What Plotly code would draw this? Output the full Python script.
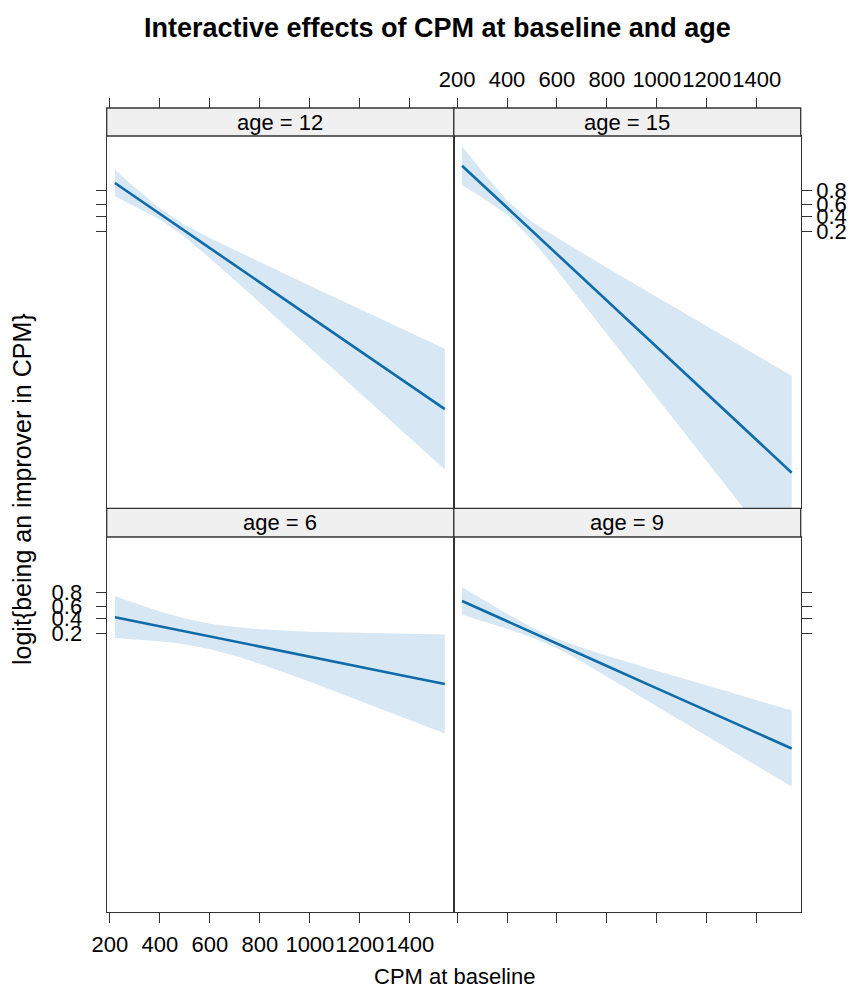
import numpy as np
import plotly.graph_objects as go

# ---------------- data (logit scale) ----------------
cpm = [220, 300, 400, 500, 600, 700, 800, 1000, 1200, 1400, 1540]

fit_age6 = [-0.31, -0.58, -0.93, -1.27, -1.61, -1.95, -2.29, -2.98, -3.66, -4.34, -4.82]
upper_age6 = [1.10, 0.63, 0.07, -0.40, -0.75, -0.98, -1.13, -1.30, -1.38, -1.44, -1.48]
lower_age6 = [-1.72, -1.79, -1.93, -2.14, -2.47, -2.92, -3.45, -4.66, -5.94, -7.24, -8.16]

fit_age9 = [0.78, 0.17, -0.58, -1.34, -2.09, -2.84, -3.60, -5.11, -6.61, -8.12, -9.17]
upper_age9 = [1.71, 0.91, -0.07, -1.00, -1.77, -2.37, -2.91, -3.93, -4.92, -5.92, -6.60]
lower_age9 = [-0.15, -0.57, -1.09, -1.68, -2.41, -3.31, -4.29, -6.29, -8.30, -10.33, -11.74]

fit_age12 = [1.87, 0.94, -0.22, -1.38, -2.54, -3.70, -4.86, -7.18, -9.50, -11.82, -13.44]
upper_age12 = [2.76, 1.57, 0.16, -0.97, -1.85, -2.68, -3.48, -5.08, -6.67, -8.25, -9.35]
lower_age12 = [0.98, 0.31, -0.60, -1.79, -3.23, -4.72, -6.24, -9.28, -12.33, -15.39, -17.53]

fit_age15 = [3.04, 1.78, 0.21, -1.37, -2.94, -4.51, -6.09, -9.24, -12.39, -15.53, -17.74]
upper_age15 = [4.36, 2.67, 0.69, -0.76, -1.84, -2.86, -3.86, -5.85, -7.83, -9.79, -11.18]
lower_age15 = [1.72, 0.89, -0.27, -1.98, -4.04, -6.17, -8.32, -12.63, -16.96, -21.27, -24.30]

ages = ["age = 6", "age = 9", "age = 12", "age = 15"]
x_tick_vals = [200, 400, 600, 800, 1000, 1200, 1400]
x_tick_text = ["200", "400", "600", "800", "1000", "1200", "1400"]
prob_ticks = [0.2, 0.4, 0.6, 0.8]
prob_tick_text = ["0.2", "0.4", "0.6", "0.8"]

title = "Interactive effects of CPM at baseline and age"
x_title = "CPM at baseline"
y_title = "logit{being an improver in CPM}"

# ---------------- styling / layout ----------------
FONT = "Liberation Sans, Arial, sans-serif"
LINE_COL = "#0F6CA8"
BAND_COL = "rgb(215,231,243)"
AX_COL = "#333333"
W, H = 839, 983

def px(x):
    return (x - 8) / W

def py(y):
    return 1 - (y - 8) / H

XL = [px(106.7), px(453.8)]
XR = [px(453.8), px(800.7)]
YT = [py(508.3), py(136)]
YB = [py(912), py(537)]
STRIP_T = [py(136), py(108)]
STRIP_B = [py(537), py(508.3)]

xrange_ = [187, 1576]
yrange_top = [-20.15, 5.05]
yrange_bot = [-20.2, 5.1]
ytickvals = [float(np.log(p / (1 - p))) for p in prob_ticks]

fig = go.Figure()

panels = [
    (fit_age6, upper_age6, lower_age6, "x", "y"),
    (fit_age9, upper_age9, lower_age9, "x2", "y2"),
    (fit_age12, upper_age12, lower_age12, "x3", "y3"),
    (fit_age15, upper_age15, lower_age15, "x4", "y4"),
]
for fit, up, lo, xa, ya in panels:
    fig.add_trace(go.Scatter(
        x=cpm + cpm[::-1], y=up + lo[::-1], fill="toself", mode="lines",
        line=dict(width=0, color=BAND_COL), fillcolor=BAND_COL,
        xaxis=xa, yaxis=ya, showlegend=False, hoverinfo="skip"))
    fig.add_trace(go.Scatter(
        x=cpm, y=fit, mode="lines", line=dict(color=LINE_COL, width=2.6),
        xaxis=xa, yaxis=ya, showlegend=False))

# empty traces to activate the top tick axes
fig.add_trace(go.Scatter(x=[], y=[], xaxis="x5", yaxis="y3", showlegend=False))
fig.add_trace(go.Scatter(x=[], y=[], xaxis="x6", yaxis="y4", showlegend=False))

tickfont = dict(family=FONT, size=22, color="black")
base_x = dict(range=xrange_, showgrid=False, zeroline=False, showline=True,
              linecolor=AX_COL, linewidth=1.3, mirror=True, tickvals=x_tick_vals,
              ticktext=x_tick_text, tickangle=0, tickfont=tickfont, ticklen=10,
              tickcolor=AX_COL, tickwidth=1.3, automargin=False, fixedrange=True,
              ticklabelstandoff=2)
base_y = dict(showgrid=False, zeroline=False, showline=True, linecolor=AX_COL,
              linewidth=1.3, mirror=True, tickvals=ytickvals, ticktext=prob_tick_text,
              tickfont=tickfont, ticklen=10, tickcolor=AX_COL, tickwidth=1.3,
              automargin=False, fixedrange=True)

layout = dict(
    width=W, height=H, template="none",
    margin=dict(l=0, r=0, t=0, b=0),
    paper_bgcolor="white", plot_bgcolor="white",
    font=dict(family=FONT, size=22, color="black"),
    xaxis=dict(base_x, domain=XL, anchor="y", ticks="outside", showticklabels=True),
    xaxis2=dict(base_x, domain=XR, anchor="y2", ticks="outside", showticklabels=False),
    xaxis3=dict(base_x, domain=XL, anchor="y3", ticks="", showticklabels=False),
    xaxis4=dict(base_x, domain=XR, anchor="y4", ticks="", showticklabels=False),
    xaxis5=dict(base_x, overlaying="x3", anchor="free", position=STRIP_T[1], side="top",
                ticks="outside", showticklabels=False, showline=False, mirror=False),
    xaxis6=dict(base_x, overlaying="x4", anchor="free", position=STRIP_T[1], side="top",
                ticks="outside", showticklabels=True, showline=False, mirror=False),
    yaxis=dict(base_y, domain=YB, anchor="x", range=yrange_bot, side="left",
               ticks="outside", showticklabels=True, ticklabelstandoff=9),
    yaxis2=dict(base_y, domain=YB, anchor="x2", range=yrange_bot, side="right",
                ticks="outside", showticklabels=False),
    yaxis3=dict(base_y, domain=YT, anchor="x3", range=yrange_top, side="left",
                ticks="outside", showticklabels=False),
    yaxis4=dict(base_y, domain=YT, anchor="x4", range=yrange_top, side="right",
                ticks="outside", showticklabels=True),
)
fig.update_layout(**layout)

# strips
shapes = []
annotations = []
strip_defs = [
    (XL, STRIP_B, ages[0]), (XR, STRIP_B, ages[1]),
    (XL, STRIP_T, ages[2]), (XR, STRIP_T, ages[3]),
]
for xd, yd, label in strip_defs:
    shapes.append(dict(type="rect", xref="paper", yref="paper", x0=xd[0], x1=xd[1],
                       y0=yd[0], y1=yd[1], fillcolor="#F0F0F0",
                       line=dict(color=AX_COL, width=1.3), layer="above"))
    annotations.append(dict(text=label, xref="paper", yref="paper",
                            x=(xd[0] + xd[1]) / 2, y=(yd[0] + yd[1]) / 2,
                            xanchor="center", yanchor="middle", showarrow=False,
                            font=dict(family=FONT, size=22, color="black")))

annotations.append(dict(text="<b>" + title + "</b>", xref="paper", yref="paper",
                        x=px(437), y=py(28), xanchor="center", yanchor="middle",
                        showarrow=False, font=dict(family=FONT, size=27, color="black")))
annotations.append(dict(text=x_title, xref="paper", yref="paper", x=px(454), y=py(976),
                        xanchor="center", yanchor="middle", showarrow=False,
                        font=dict(family=FONT, size=22, color="black")))
annotations.append(dict(text=y_title, xref="paper", yref="paper", x=px(22), y=py(489),
                        xanchor="center", yanchor="middle", showarrow=False, textangle=-90,
                        font=dict(family=FONT, size=25, color="black")))

fig.update_layout(shapes=shapes, annotations=annotations)
fig.write_html("out.html")
